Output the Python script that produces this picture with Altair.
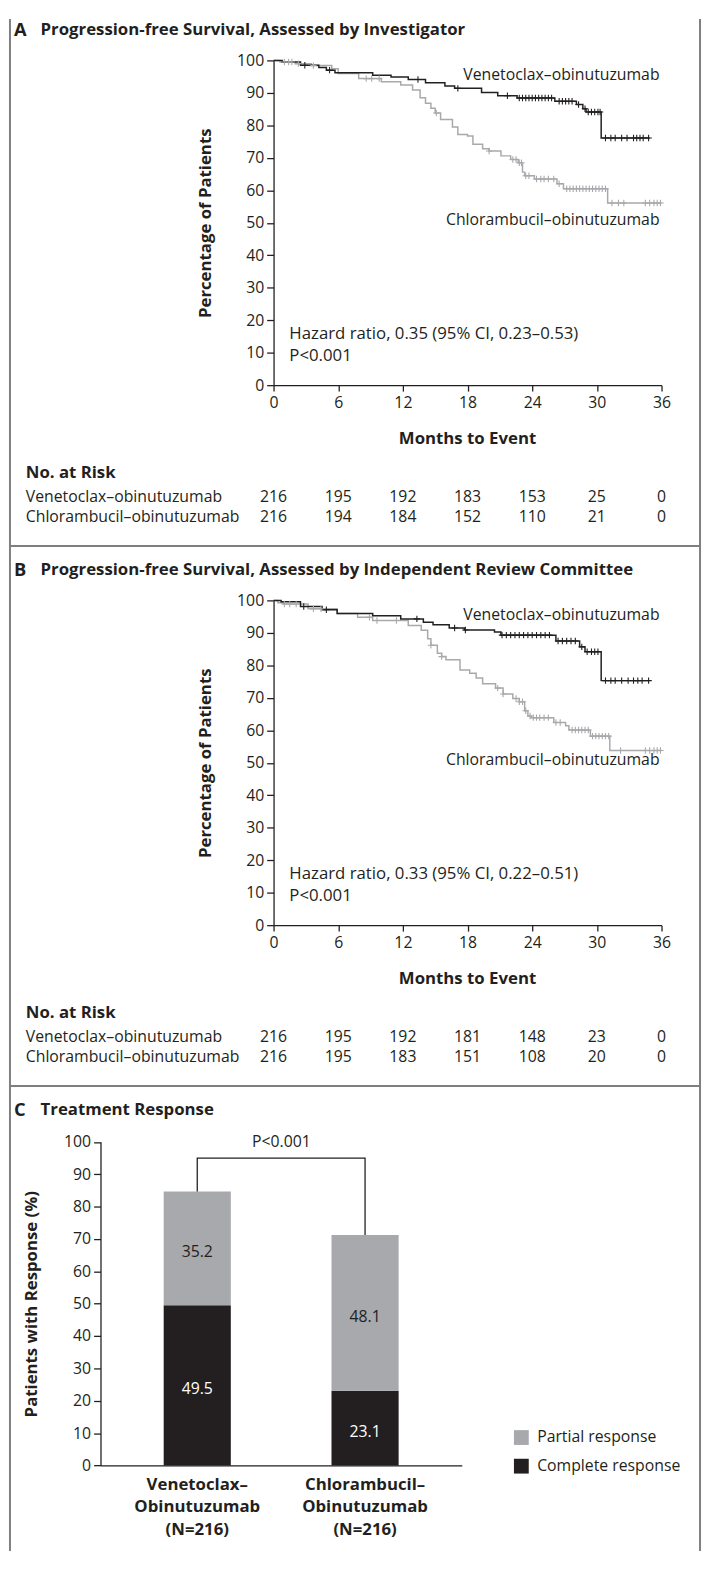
import altair as alt
import numpy as np
import pandas as pd

# ---------------- data ----------------
MONTH_TICKS = [0, 6, 12, 18, 24, 30, 36]
PCT_TICKS = list(range(0, 101, 10))

# Panel A - investigator assessed
A_VEN_T = [0, 0.8, 2.5, 4.2, 4.9, 5.7, 9.2, 10.9, 12.5, 14.1, 15.9, 16.8, 19.3, 20.8, 22.6, 26.1, 28.1, 28.7, 29.0, 30.4]
A_VEN_S = [100, 99.5, 98.5, 97.8, 97.0, 96.2, 95.4, 94.9, 94.1, 93.1, 92.1, 91.4, 90.1, 89.1, 88.4, 87.4, 86.4, 85.1, 84.1, 76.1]
A_VEN_END = 34.9
A_VEN_CENS = [2.9, 5.2, 13.4, 17.1, 21.7, 22.8, 23.1, 23.4, 23.7, 24.0, 24.3, 24.6, 24.9, 25.2, 25.5, 25.8,
              26.5, 26.8, 27.1, 27.4, 27.7, 28.3, 28.9, 29.2, 29.5, 29.8, 30.1, 30.3, 30.8, 31.3, 31.7,
              32.3, 32.8, 33.4, 33.7, 34.0, 34.3, 34.8]

A_CHL_T = [0, 0.6, 2.0, 3.5, 5.4, 6.0, 7.9, 10.0, 11.8, 12.9, 13.6, 14.1, 14.6, 15.0, 15.5, 16.6, 17.1, 18.0,
           18.5, 19.4, 20.0, 21.1, 22.0, 22.7, 23.1, 23.3, 24.2, 26.3, 26.9, 31.0]
A_CHL_S = [100, 99.5, 99.0, 98.4, 97.4, 96.0, 94.4, 93.4, 92.4, 90.9, 88.5, 86.8, 85.3, 83.8, 81.8, 79.5, 77.2,
           76.7, 74.2, 72.8, 72.1, 70.6, 69.5, 68.5, 65.6, 64.5, 63.5, 62.0, 60.5, 56.1]
A_CHL_END = 36.0
A_CHL_CENS = [1.0, 1.4, 1.7, 2.3, 3.7, 8.6, 9.1, 9.8, 15.1, 20.0, 22.2, 22.5, 22.8, 23.0, 23.4, 23.7, 24.4,
              24.8, 25.1, 25.5, 26.0, 26.5, 27.2, 27.5, 27.8, 28.1, 28.4, 28.7, 29.0, 29.3, 29.6, 29.9,
              30.2, 30.5, 30.8, 31.4, 32.0, 32.5, 34.5, 34.9, 35.3, 35.6, 35.9]

A_RISK_VEN = [216, 195, 192, 183, 153, 25, 0]
A_RISK_CHL = [216, 194, 184, 152, 110, 21, 0]

# Panel B - independent review committee
B_VEN_T = [0, 0.7, 2.5, 4.5, 5.9, 9.2, 11.8, 13.9, 14.8, 16.3, 17.7, 20.5, 21.1, 26.2, 28.4, 28.9, 30.4]
B_VEN_S = [100, 99.6, 98.1, 97.1, 96.0, 95.3, 94.3, 93.3, 92.5, 91.5, 90.9, 90.3, 89.3, 87.5, 85.7, 84.2, 75.3]
B_VEN_END = 34.9
B_VEN_CENS = [2.8, 4.9, 13.3, 16.8, 17.8, 21.2, 21.6, 22.0, 22.4, 22.8, 23.2, 23.6, 24.0, 24.4, 24.8, 25.2,
              25.6, 26.4, 26.8, 27.2, 27.6, 28.0, 28.6, 29.1, 29.5, 29.8, 30.1, 30.8, 31.3, 31.7, 32.3,
              32.9, 33.4, 33.8, 34.2, 34.8]

B_CHL_T = [0, 0.4, 0.9, 3.2, 5.9, 7.8, 9.2, 12.5, 13.7, 14.3, 14.6, 15.2, 15.6, 16.0, 17.3, 18.2, 18.8, 19.4,
           20.6, 21.3, 22.2, 22.8, 23.3, 23.6, 23.9, 26.0, 27.1, 27.4, 29.4, 31.2]
B_CHL_S = [100, 99.3, 98.9, 97.4, 96.0, 94.8, 93.8, 92.3, 90.8, 88.2, 86.2, 83.7, 82.7, 81.7, 78.6, 77.6, 76.1,
           74.3, 73.0, 71.2, 69.8, 68.8, 66.0, 64.4, 63.9, 62.4, 61.4, 60.1, 58.2, 53.8]
B_CHL_END = 36.0
B_CHL_CENS = [1.0, 1.5, 2.1, 3.7, 4.4, 8.9, 9.6, 11.4, 14.6, 15.6, 20.8, 21.3, 22.5, 22.8, 23.1, 23.4, 23.8,
              24.1, 24.4, 24.7, 25.1, 25.5, 26.2, 26.6, 27.7, 28.0, 28.3, 28.6, 28.9, 29.2, 29.6, 29.9,
              30.2, 30.5, 30.8, 31.1, 32.2, 34.5, 34.9, 35.3, 35.6, 35.9]

B_RISK_VEN = [216, 195, 192, 181, 148, 23, 0]
B_RISK_CHL = [216, 195, 183, 151, 108, 20, 0]

# Panel C - treatment response
GROUPS = ["Venetoclax–", "Chlorambucil–"]
GROUP_SUFFIX = "Obinutuzumab"
GROUP_N = [216, 216]
RESPONSES = ["Partial response", "Complete response"]
COMPLETE = [49.5, 23.1]
PARTIAL = [35.2, 48.1]
BRACKET_TOP = 95
P_TEXT = "P<0.001"

# ---------------- style ----------------
FONT = "Open Sans"
INK = "#231f20"
GRAY = "#a7a9ac"
BORDER = "#7f7f7f"
PLUS = "M-1,0L1,0M0,-1L0,1"
W = 700
HA, HB, HC = 534, 547, 471
TXT = 16      # regular text
NUM = 16      # numbers / tick labels
BOLD_SZ = 17  # bold titles


def step_df(t, s, end):
    return pd.DataFrame({"t": list(t) + [end], "s": list(s) + [s[-1]]})


def censor_df(cens, t, s):
    idx = np.searchsorted(np.array(t), np.array(cens), side="right") - 1
    return pd.DataFrame({"t": cens, "s": np.array(s)[idx]})


def label(text, x, y, size=TXT, weight="normal", align="left", color=INK):
    return alt.Chart(pd.DataFrame({"txt": [text]})).mark_text(
        font=FONT, fontSize=size, fontWeight=weight, align=align, baseline="middle", color=color
    ).encode(x=alt.value(x), y=alt.value(y), text="txt:N")


def frame(H, top_rule):
    one = pd.DataFrame({"a": [0]})
    layers = [
        alt.Chart(one).mark_rule(color=BORDER, strokeWidth=2).encode(x=alt.value(1), y=alt.value(0), y2=alt.value(H)),
        alt.Chart(one).mark_rule(color=BORDER, strokeWidth=2).encode(x=alt.value(W), y=alt.value(0), y2=alt.value(H)),
    ]
    if top_rule:
        layers.append(alt.Chart(one).mark_rule(color=BORDER, strokeWidth=2).encode(
            x=alt.value(0), x2=alt.value(W + 1), y=alt.value(0)))
    return layers


def km_panel(letter, title, H, y100, y0, ven, chl, risk_ven, risk_chl, hr, top_rule):
    xs = alt.Scale(domain=[0, 36], range=[268, 661], nice=False, zero=False)
    ys = alt.Scale(domain=[0, 100], range=[y0, y100], nice=False, zero=False)
    xaxis = alt.Axis(values=MONTH_TICKS, grid=False, offset=y0 - H, tickSize=6, labelPadding=4,
                     labelFlush=False, title="Months to Event", titleX=464, titleY=54,
                     titleBaseline="middle")
    yaxis = alt.Axis(values=PCT_TICKS, grid=False, offset=-268, tickSize=7, labelPadding=3,
                     labelFlush=False, title="Percentage of Patients", titleX=-69,
                     titleY=(y0 + y100) / 2, titleBaseline="middle", titleAngle=270)

    chl_line = alt.Chart(step_df(*chl[:3])).mark_line(
        interpolate="step-after", color=GRAY, strokeWidth=1.5
    ).encode(x=alt.X("t:Q", scale=xs, axis=xaxis), y=alt.Y("s:Q", scale=ys, axis=yaxis))
    ven_line = alt.Chart(step_df(*ven[:3])).mark_line(
        interpolate="step-after", color=INK, strokeWidth=1.5
    ).encode(x="t:Q", y="s:Q")
    chl_c = alt.Chart(censor_df(chl[3], chl[0], chl[1])).mark_point(
        shape=PLUS, size=42, filled=False, color=GRAY, strokeWidth=1.1, opacity=1
    ).encode(x="t:Q", y="s:Q")
    ven_c = alt.Chart(censor_df(ven[3], ven[0], ven[1])).mark_point(
        shape=PLUS, size=42, filled=False, color=INK, strokeWidth=1.1, opacity=1
    ).encode(x="t:Q", y="s:Q")

    rv = alt.Chart(pd.DataFrame({"t": MONTH_TICKS, "n": risk_ven})).mark_text(
        font=FONT, fontSize=NUM, color=INK, baseline="middle"
    ).encode(x="t:Q", y=alt.value(y0 + 113), text="n:Q")
    rc = alt.Chart(pd.DataFrame({"t": MONTH_TICKS, "n": risk_chl})).mark_text(
        font=FONT, fontSize=NUM, color=INK, baseline="middle"
    ).encode(x="t:Q", y=alt.value(y0 + 134), text="n:Q")

    texts = [
        label(letter, 5, y100 - 30.5, size=18.5, weight="bold"),
        label(title, 32, y100 - 30.5, size=BOLD_SZ, weight="bold"),
        label("Venetoclax–obinutuzumab", 659, y100 + 15, align="right"),
        label("Chlorambucil–obinutuzumab", 659, y100 + 162, align="right"),
        label(hr, 284, y100 + 277, size=17),
        label("P<0.001", 284, y100 + 300, size=17),
        label("No. at Risk", 17, y0 + 89, size=BOLD_SZ, weight="bold"),
        label("Venetoclax–obinutuzumab", 17, y0 + 113),
        label("Chlorambucil–obinutuzumab", 17, y0 + 134),
    ]
    return alt.layer(chl_line, ven_line, chl_c, ven_c, rv, rc, *texts, *frame(H, top_rule)).properties(
        width=W, height=H)


panel_a = km_panel("A", "Progression-free Survival, Assessed by Investigator", HA, 42, 371,
                   (A_VEN_T, A_VEN_S, A_VEN_END, A_VEN_CENS),
                   (A_CHL_T, A_CHL_S, A_CHL_END, A_CHL_CENS),
                   A_RISK_VEN, A_RISK_CHL, "Hazard ratio, 0.35 (95% CI, 0.23–0.53)", False)
panel_b = km_panel("B", "Progression-free Survival, Assessed by Independent Review Committee", HB, 55, 384,
                   (B_VEN_T, B_VEN_S, B_VEN_END, B_VEN_CENS),
                   (B_CHL_T, B_CHL_S, B_CHL_END, B_CHL_CENS),
                   B_RISK_VEN, B_RISK_CHL, "Hazard ratio, 0.33 (95% CI, 0.22–0.51)", True)

# ---------------- panel C ----------------
cat_labels = [f"{g}|{GROUP_SUFFIX}|(N={n})" for g, n in zip(GROUPS, GROUP_N)]
rows = []
for i, cat in enumerate(cat_labels):
    rows.append({"group": cat, "resp": "Complete response", "value": COMPLETE[i], "order": 0})
    rows.append({"group": cat, "resp": "Partial response", "value": PARTIAL[i], "order": 1})
bars_df = pd.DataFrame(rows)

C_Y100, C_Y0 = 56.5, 384.3
C_TOP = HA + HB  # vertical offset of panel C inside the whole figure (for the legend)
xc = alt.Scale(domain=cat_labels, range=[92.7, 458.7], paddingInner=0.6, paddingOuter=0.3765)
yc = alt.Scale(domain=[0, 100], range=[C_Y0, C_Y100], nice=False, zero=False)
xc_axis = alt.Axis(title=None, ticks=False, labelAngle=0, offset=C_Y0 - HC, labelFont=FONT,
                   labelFontSize=17, labelFontWeight="bold", labelPadding=11, labelLineHeight=23,
                   labelExpr="split(datum.label, '|')", domainWidth=1.3)
yc_axis = alt.Axis(values=PCT_TICKS, grid=False, offset=-92.7, tickSize=7, labelPadding=3,
                   labelFlush=False, title="Patients with Response (%)", titleX=-69.7,
                   titleY=(C_Y0 + C_Y100) / 2, titleBaseline="middle", titleAngle=270)

base_c = alt.Chart(bars_df).transform_stack(
    stack="value", groupby=["group"], sort=[alt.SortField("order")], as_=["v0", "v1"]
).transform_calculate(mid="(datum.v0 + datum.v1) / 2")

bars = base_c.mark_bar().encode(
    x=alt.X("group:N", scale=xc, axis=xc_axis, sort=cat_labels),
    y=alt.Y("v0:Q", scale=yc, axis=yc_axis),
    y2="v1:Q",
    color=alt.Color("resp:N", scale=alt.Scale(domain=RESPONSES, range=[GRAY, INK]),
                    legend=alt.Legend(title=None, orient="none", legendX=511, legendY=C_TOP + 348,
                                      symbolType="square", symbolSize=225, symbolStrokeWidth=0,
                                      symbolOpacity=1, labelFont=FONT, labelFontSize=TXT,
                                      labelColor=INK, rowPadding=13, labelOffset=8)),
)
bar_text = base_c.mark_text(font=FONT, fontSize=NUM, baseline="middle", dy=4).encode(
    x=alt.X("group:N", sort=cat_labels),
    y="mid:Q",
    text=alt.Text("value:Q", format=".1f"),
    color=alt.condition("datum.resp == 'Complete response'", alt.value("white"), alt.value(INK)),
)

totals = [c + p for c, p in zip(COMPLETE, PARTIAL)]
bracket_df = pd.DataFrame({
    "group": [cat_labels[0], cat_labels[0], cat_labels[1], cat_labels[1]],
    "y": [totals[0], BRACKET_TOP, BRACKET_TOP, totals[1]],
    "k": [0, 1, 2, 3],
})
bracket = alt.Chart(bracket_df).mark_line(color=INK, strokeWidth=1.3).encode(
    x=alt.X("group:N", sort=cat_labels), y="y:Q", order="k:Q")
p_text = alt.Chart(pd.DataFrame({"txt": [P_TEXT]})).mark_text(
    font=FONT, fontSize=TXT, color=INK, baseline="middle", dy=-16
).encode(x=alt.value(276), y=alt.datum(BRACKET_TOP), text="txt:N")

panel_c = alt.layer(
    bars, bar_text, bracket, p_text,
    label("C", 5, 24, size=18.5, weight="bold"),
    label("Treatment Response", 32, 24, size=BOLD_SZ, weight="bold"),
    *frame(HC, True),
).properties(width=W, height=HC)

chart = alt.vconcat(panel_a, panel_b, panel_c, spacing=0, bounds="flush").properties(
    padding=0
).configure_view(stroke=None).configure_axis(
    labelFont=FONT, labelFontSize=NUM, labelColor=INK, domainColor=INK, tickColor=INK,
    domainWidth=1.3, tickWidth=1.3, titleFont=FONT, titleFontSize=BOLD_SZ, titleFontWeight="bold",
    titleColor=INK,
)

chart.save("out.html", embed_options={"renderer": "svg", "actions": False})
